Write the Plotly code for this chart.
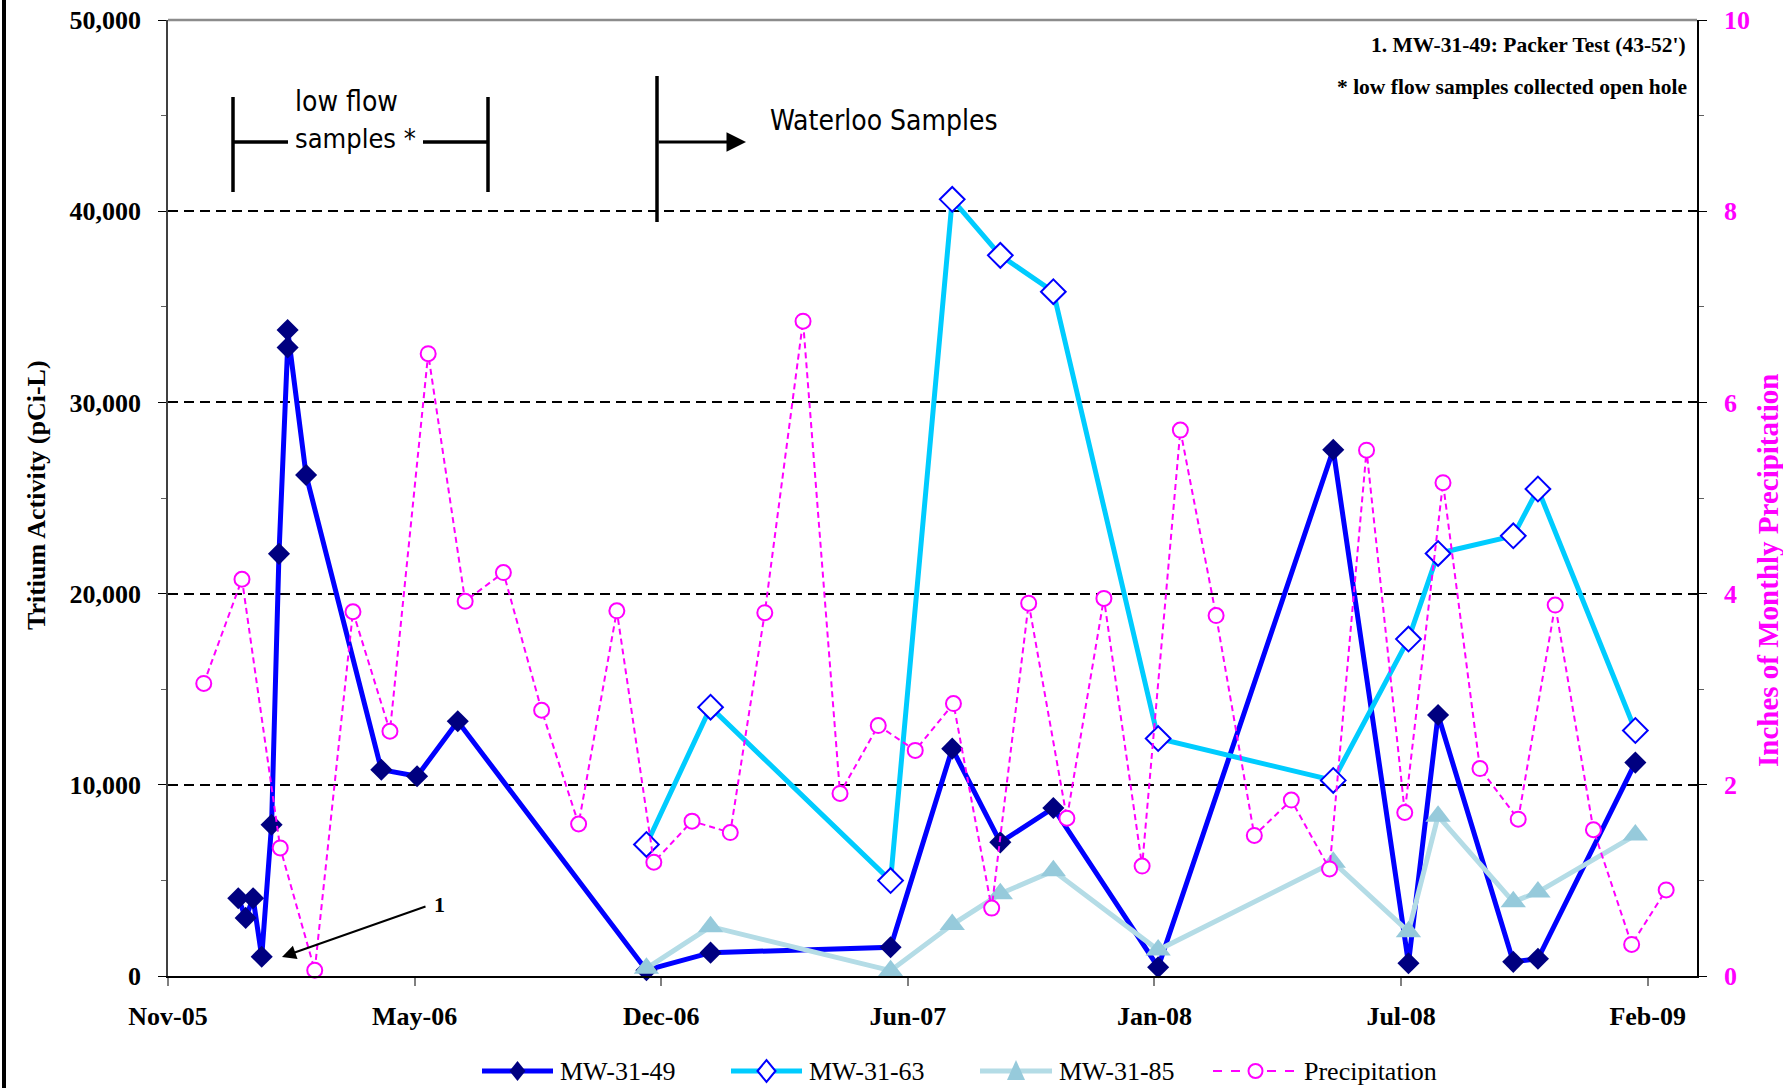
import plotly.graph_objects as go

# ---------------- data ----------------
mw49_dates = ["2005-12-28", "2006-01-03", "2006-01-09", "2006-01-16", "2006-01-24", "2006-01-30",
              "2006-02-06", "2006-02-06", "2006-02-21", "2006-04-23", "2006-05-22", "2006-06-24",
              "2006-11-24", "2007-01-15", "2007-06-10", "2007-07-30", "2007-09-07", "2007-10-20",
              "2008-01-13", "2008-06-03", "2008-08-03", "2008-08-27", "2008-10-27", "2008-11-16",
              "2009-02-03"]
mw_31_49 = [4070, 3040, 4070, 1010, 7910, 22080, 32870, 33790, 26200, 10790, 10450, 13320,
            300, 1220, 1500, 11890, 6990, 8790, 460, 27520, 670, 13650, 740, 900, 11160]

waterloo_dates = ["2006-11-24", "2007-01-15", "2007-06-10", "2007-07-30", "2007-09-07", "2007-10-20",
                  "2008-01-13", "2008-06-03", "2008-08-03", "2008-08-27", "2008-10-27", "2008-11-16",
                  "2009-02-03"]
mw_31_63 = [6880, 14060, 4990, 40620, 37690, 35790, 12420, 10230, 17620, 22100, 23020, 25470, 12840]
mw_31_85 = [400, 2580, 280, 2690, 4300, 5500, 1360, 5950, 2320, 8360, 3880, 4390, 7370]

precip_dates = ["2005-11-30", "2005-12-31", "2006-01-31", "2006-02-28", "2006-03-31", "2006-04-30",
                "2006-05-31", "2006-06-30", "2006-07-31", "2006-08-31", "2006-09-30", "2006-10-31",
                "2006-11-30", "2006-12-31", "2007-01-31", "2007-02-28", "2007-03-31", "2007-04-30",
                "2007-05-31", "2007-06-30", "2007-07-31", "2007-08-31", "2007-09-30", "2007-10-31",
                "2007-11-30", "2007-12-31", "2008-01-31", "2008-02-29", "2008-03-31", "2008-04-30",
                "2008-05-31", "2008-06-30", "2008-07-31", "2008-08-31", "2008-09-30", "2008-10-31",
                "2008-11-30", "2008-12-31", "2009-01-31", "2009-02-28"]
precip_in = [3.06, 4.15, 1.34, 0.06, 3.81, 2.56, 6.51, 3.92, 4.22, 2.78, 1.59, 3.82,
             1.19, 1.62, 1.50, 3.80, 6.85, 1.91, 2.62, 2.36, 2.85, 0.71, 3.90, 1.65,
             3.95, 1.15, 5.71, 3.77, 1.47, 1.84, 1.12, 5.50, 1.71, 5.16, 2.17, 1.64,
             3.88, 1.53, 0.33, 0.90]

x_tick_dates = ["2005-11-01", "2006-05-20", "2006-12-06", "2007-06-24", "2008-01-10", "2008-07-28", "2009-02-13"]
x_tick_labels = ["Nov-05", "May-06", "Dec-06", "Jun-07", "Jan-08", "Jul-08", "Feb-09"]
x_range = ["2005-11-01", "2009-03-25"]

series_names = ["MW-31-49", "MW-31-63", "MW-31-85", "Precipitation"]

# ---------------- layout geometry helpers ----------------
W, H = 1783, 1088
L, R, T, B = 168, 1697, 20, 976


def px(x):
    return (x - L) / (R - L)


def py(y):
    return (B - y) / (B - T)


SERIF = "Liberation Serif, Times New Roman, serif"
NARROW = "Liberation Sans Narrow, Arial Narrow, DejaVu Sans Condensed, sans-serif"
MAGENTA = "#FF00FF"
C49_LINE, C49_MARK = "#0000FF", "#000080"
C63_LINE, C63_MARK = "#00CCFF", "#0000FF"
C85_LINE, C85_MARK = "#B4DCE6", "#96CADB"

fig = go.Figure()

fig.add_trace(go.Scatter(
    x=mw49_dates, y=mw_31_49, name=series_names[0], mode="lines+markers",
    line=dict(color=C49_LINE, width=5),
    marker=dict(symbol="diamond", size=17, color=C49_MARK, line=dict(width=0)),
    cliponaxis=False))

fig.add_trace(go.Scatter(
    x=waterloo_dates, y=mw_31_63, name=series_names[1], mode="lines+markers",
    line=dict(color=C63_LINE, width=5),
    marker=dict(symbol="diamond", size=19, color="white", line=dict(width=2, color=C63_MARK)),
    cliponaxis=False))

fig.add_trace(go.Scatter(
    x=waterloo_dates, y=mw_31_85, name=series_names[2], mode="lines+markers",
    line=dict(color=C85_LINE, width=5),
    marker=dict(symbol="triangle-up", size=22, color=C85_MARK, line=dict(width=0)),
    cliponaxis=False))

fig.add_trace(go.Scatter(
    x=precip_dates, y=precip_in, name=series_names[3], mode="lines+markers", yaxis="y2",
    line=dict(color=MAGENTA, width=2, dash="6px,4px"),
    marker=dict(symbol="circle", size=15, color="white", line=dict(width=2, color=MAGENTA)),
    cliponaxis=False))

shapes = []
# page border at far left
shapes.append(dict(type="line", xref="paper", yref="paper", x0=px(4), x1=px(4), y0=py(0), y1=py(H),
                   line=dict(color="black", width=4)))
# top border of plot area (grey)
shapes.append(dict(type="line", xref="paper", yref="paper", x0=0, x1=1, y0=1, y1=1,
                   line=dict(color="#8C8C8C", width=2.5)))
# low flow bracket
blk = dict(color="black", width=3.5)
shapes.append(dict(type="line", xref="paper", yref="paper", x0=px(233), x1=px(233), y0=py(97), y1=py(192), line=blk))
shapes.append(dict(type="line", xref="paper", yref="paper", x0=px(488), x1=px(488), y0=py(97), y1=py(192), line=blk))
shapes.append(dict(type="line", xref="paper", yref="paper", x0=px(233), x1=px(288), y0=py(142), y1=py(142), line=blk))
shapes.append(dict(type="line", xref="paper", yref="paper", x0=px(423), x1=px(488), y0=py(142), y1=py(142), line=blk))
# Waterloo marker line
shapes.append(dict(type="line", xref="paper", yref="paper", x0=px(657), x1=px(657), y0=py(76), y1=py(222), line=blk))

annotations = []
annotations.append(dict(xref="paper", yref="paper", x=px(746), y=py(142), text="", showarrow=True,
                        ax=-(746 - 657), ay=0, axref="pixel", ayref="pixel",
                        arrowhead=2, arrowsize=1.3, arrowwidth=3, arrowcolor="black", standoff=0))
annotations.append(dict(xref="paper", yref="paper", x=px(293), y=py(102), text="low flow", showarrow=False,
                        xanchor="left", yanchor="middle", font=dict(family=NARROW, size=28, color="black")))
annotations.append(dict(xref="paper", yref="paper", x=px(293), y=py(138), text="samples *", showarrow=False,
                        xanchor="left", yanchor="middle", font=dict(family=NARROW, size=27, color="black")))
annotations.append(dict(xref="paper", yref="paper", x=px(768), y=py(121), text="Waterloo Samples", showarrow=False,
                        xanchor="left", yanchor="middle", font=dict(family=NARROW, size=28, color="black")))
annotations.append(dict(xref="paper", yref="paper", x=px(1688), y=py(45), text="1. MW-31-49: Packer Test (43-52')",
                        showarrow=False, xanchor="right", yanchor="middle",
                        font=dict(family=SERIF, size=21.5, color="black", weight="bold")))
annotations.append(dict(xref="paper", yref="paper", x=px(1689), y=py(87), text="* low flow samples collected open hole",
                        showarrow=False, xanchor="right", yanchor="middle",
                        font=dict(family=SERIF, size=21.5, color="black", weight="bold")))
# arrow labelled "1"
annotations.append(dict(xref="paper", yref="paper", x=px(282), y=py(957), text="", showarrow=True,
                        ax=(427 - 282), ay=(906 - 957), axref="pixel", ayref="pixel",
                        arrowhead=2, arrowsize=1.4, arrowwidth=2, arrowcolor="black", standoff=0))
annotations.append(dict(xref="paper", yref="paper", x=px(432), y=py(904), text="1", showarrow=False,
                        xanchor="left", yanchor="middle",
                        font=dict(family=SERIF, size=22, color="black", weight="bold")))
# axis titles
annotations.append(dict(xref="paper", yref="paper", x=px(36), y=py(495), text="Tritium Activity (pCi-L)",
                        showarrow=False, textangle=-90, xanchor="center", yanchor="middle",
                        font=dict(family=SERIF, size=26, color="black", weight="bold")))
annotations.append(dict(xref="paper", yref="paper", x=px(1768), y=py(571), text="Inches of Monthly Precipitation",
                        showarrow=False, textangle=-90, xanchor="center", yanchor="middle",
                        font=dict(family=SERIF, size=29, color=MAGENTA, weight="bold")))

# ---------------- hand-drawn legend (Excel style: long line sample, marker in the middle) ----------------
LEG_Y = 1071
leg_items = [
    # (line start, line end, text start, line colour, line dash, marker kind)
    (482, 553, 558, C49_LINE, "solid", "diamond_fill"),
    (731, 802, 807, C63_LINE, "solid", "diamond_open"),
    (980, 1052, 1057, C85_LINE, "solid", "triangle"),
    (1213, 1298, 1302, MAGENTA, "dash", "circle"),
]
for (x0, x1, xt, lc, ld, mk), name in zip(leg_items, series_names):
    lw = 2 if ld == "dash" else 5
    shapes.append(dict(type="line", xref="paper", yref="paper", x0=px(x0), x1=px(x1),
                       y0=py(LEG_Y), y1=py(LEG_Y), line=dict(color=lc, width=lw, dash=ld)))
    cx = (x0 + x1) / 2
    if mk.startswith("diamond"):
        hw, hh = (8, 10) if mk == "diamond_fill" else (9, 11)
        path = (f"M{px(cx - hw)},{py(LEG_Y)} L{px(cx)},{py(LEG_Y - hh)} "
                f"L{px(cx + hw)},{py(LEG_Y)} L{px(cx)},{py(LEG_Y + hh)} Z")
        if mk == "diamond_fill":
            shapes.append(dict(type="path", xref="paper", yref="paper", path=path,
                               fillcolor=C49_MARK, line=dict(width=0)))
        else:
            shapes.append(dict(type="path", xref="paper", yref="paper", path=path,
                               fillcolor="white", line=dict(width=2, color=C63_MARK)))
    elif mk == "triangle":
        path = (f"M{px(cx - 9)},{py(LEG_Y + 9)} L{px(cx + 9)},{py(LEG_Y + 9)} "
                f"L{px(cx)},{py(LEG_Y - 11)} Z")
        shapes.append(dict(type="path", xref="paper", yref="paper", path=path,
                           fillcolor=C85_MARK, line=dict(width=0)))
    else:
        shapes.append(dict(type="circle", xref="paper", yref="paper",
                           x0=px(cx - 7), x1=px(cx + 7), y0=py(LEG_Y + 7), y1=py(LEG_Y - 7),
                           fillcolor="white", line=dict(width=2, color=MAGENTA)))
    annotations.append(dict(xref="paper", yref="paper", x=px(xt), y=py(LEG_Y), text=name,
                            showarrow=False, xanchor="left", yanchor="middle",
                            font=dict(family=SERIF, size=26, color="black")))

fig.update_layout(
    width=W, height=H,
    margin=dict(l=L, r=W - R, t=T, b=H - B, pad=0, autoexpand=False),
    paper_bgcolor="white", plot_bgcolor="white",
    showlegend=False,
    xaxis=dict(type="date", range=x_range, tickvals=x_tick_dates, ticktext=x_tick_labels,
               automargin=False,
               showgrid=False, zeroline=False, showline=True, linecolor="black", linewidth=1.5,
               ticks="outside", ticklen=8, tickcolor="#808080", tickwidth=1.5,
               ticklabelstandoff=8,
               tickfont=dict(family=SERIF, size=26, color="black", weight="bold")),
    yaxis=dict(range=[0, 50000], dtick=10000, tickformat=",d", automargin=False,
               showgrid=True, gridcolor="black", gridwidth=1.5, griddash="10px,6px",
               zeroline=False, showline=True, linecolor="#404040", linewidth=1.5,
               ticks="outside", ticklen=8, tickcolor="black", tickwidth=1,
               minor=dict(dtick=5000, ticks="outside", ticklen=5, tickcolor="#606060", showgrid=False),
               ticklabelstandoff=12,
               tickfont=dict(family=SERIF, size=26, color="black", weight="bold")),
    yaxis2=dict(range=[0, 10], dtick=2, overlaying="y", side="right", automargin=False,
                showgrid=False, zeroline=False, showline=True, linecolor="black", linewidth=1.5,
                ticks="outside", ticklen=8, tickcolor="black", tickwidth=1,
                minor=dict(dtick=1, ticks="outside", ticklen=5, tickcolor="#606060", showgrid=False),
                ticklabelstandoff=12,
                tickfont=dict(family=SERIF, size=26, color=MAGENTA, weight="bold")),
    shapes=shapes,
    annotations=annotations,
)

fig.write_html("out.html", config={"displayModeBar": False},
               post_script="document.body.style.margin='0';document.body.style.overflow='hidden';")
